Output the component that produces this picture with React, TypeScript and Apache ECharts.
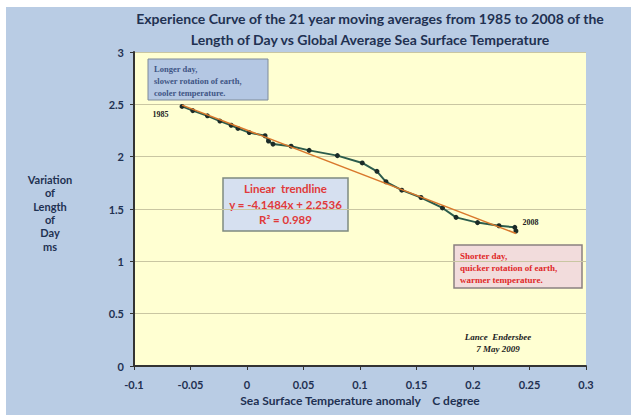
import React, { useEffect, useRef } from "react";
import * as echarts from "echarts";

const sstAnomaly: number[] = [
  -0.0575, -0.048, -0.035, -0.024, -0.014, -0.008, 0.002, 0.016, 0.019, 0.023,
  0.039, 0.055, 0.08, 0.102, 0.115, 0.123, 0.137, 0.154, 0.173, 0.185, 0.204,
  0.223, 0.237, 0.238,
];
const lodMs: number[] = [
  2.48, 2.44, 2.39, 2.34, 2.3, 2.27, 2.23, 2.2, 2.15, 2.12, 2.1, 2.06, 2.01,
  1.94, 1.86, 1.76, 1.68, 1.61, 1.51, 1.42, 1.37, 1.34, 1.325, 1.29,
];
const firstYear = "1985";
const lastYear = "2008";
const trendSlope = -4.1484;
const trendIntercept = 2.2536;
const rSquared = "0.989";

const titleLines = [
  "Experience Curve of the 21 year moving averages from 1985 to 2008 of the",
  "Length of Day vs Global Average Sea Surface Temperature",
];
const yAxisTitle = ["Variation", "of", "Length", "of", "Day", "ms"];
const xAxisTitle = "Sea Surface Temperature anomaly    C degree";

const NAVY = "#1f3152";
const SANS = "Lato, 'Open Sans', sans-serif";
const SERIF = "'Liberation Serif', 'DejaVu Serif', serif";

export default function App() {
  const ref = useRef<HTMLDivElement>(null);
  useEffect(() => {
    if (!ref.current) return;
    const chart = echarts.init(ref.current, null, { renderer: "svg" });
    const pts = sstAnomaly.map((x, i) => {
      const item: any = { value: [x, lodMs[i]] };
      if (i === 0) {
        item.label = {
          show: true,
          formatter: firstYear,
          position: "left",
          offset: [-6, 8],
        };
      } else if (i === sstAnomaly.length - 1) {
        item.label = {
          show: true,
          formatter: lastYear,
          position: "right",
          offset: [-1, -8],
        };
      }
      return item;
    });
    const xMin = Math.min(...sstAnomaly);
    const xMax = Math.max(...sstAnomaly);
    const trend = [
      [xMin, trendSlope * xMin + trendIntercept],
      [xMax, trendSlope * xMax + trendIntercept],
    ];

    chart.setOption({
      animation: false,
      backgroundColor: "transparent",
      title: {
        text: titleLines.join("\n"),
        left: 370,
        textAlign: "center",
        top: 8,
        padding: 0,
        textStyle: {
          fontFamily: SANS,
          fontWeight: "bold",
          fontSize: 14,
          color: NAVY,
          lineHeight: 21,
        },
      },
      grid: {
        left: 134,
        right: 45,
        top: 52,
        bottom: 49,
        show: true,
        backgroundColor: "#ffffd2",
        borderWidth: 0,
      },
      xAxis: {
        type: "value",
        min: -0.1,
        max: 0.3,
        interval: 0.05,
        name: xAxisTitle,
        nameLocation: "middle",
        nameGap: 28,
        nameTextStyle: {
          fontFamily: SANS,
          fontWeight: "bold",
          fontSize: 12,
          color: NAVY,
        },
        axisLine: { show: true, onZero: false, lineStyle: { color: "#333", width: 2 } },
        axisTick: { show: true, length: 4, lineStyle: { color: "#333" } },
        splitLine: { show: false },
        axisLabel: {
          fontFamily: SANS,
          fontWeight: "bold",
          fontSize: 11,
          color: NAVY,
          margin: 13,
          formatter: (v: number) => String(Math.round(v * 100) / 100),
        },
      },
      yAxis: {
        type: "value",
        min: 0,
        max: 3,
        interval: 0.5,
        axisLine: { show: true, onZero: false, lineStyle: { color: "#333", width: 2 } },
        axisTick: { show: true, length: 4, lineStyle: { color: "#333" } },
        splitLine: { show: true, lineStyle: { color: "#c9c6a2", width: 1 } },
        axisLabel: {
          fontFamily: SANS,
          fontWeight: "bold",
          fontSize: 11,
          color: NAVY,
          margin: 10,
        },
      },
      series: [
        {
          type: "line",
          data: pts,
          symbol: "circle",
          symbolSize: 5,
          itemStyle: { color: "#1b2b28" },
          lineStyle: { color: "#2c5c4c", width: 2 },
          label: {
            fontFamily: SERIF,
            fontWeight: "bold",
            fontSize: 8,
            color: "#222",
          },
          z: 2,
        },
        {
          type: "line",
          data: trend,
          symbol: "none",
          lineStyle: { color: "#d9782c", width: 1.5 },
          z: 3,
        },
      ],
      graphic: [
        {
          type: "text",
          x: 50,
          y: 173,
          style: {
            text: yAxisTitle.join("\n"),
            align: "center",
            fontFamily: SANS,
            fontWeight: "bold",
            fontSize: 11,
            lineHeight: 13.3,
            fill: NAVY,
          },
        },
        {
          type: "group",
          x: 148,
          y: 59,
          children: [
            {
              type: "rect",
              shape: { x: 0, y: 0, width: 120, height: 41 },
              style: { fill: "#b4c7e3", stroke: "#7f8a99", lineWidth: 1 },
            },
            {
              type: "text",
              x: 6,
              y: 4,
              style: {
                text: "Longer day,\nslower rotation of earth,\ncooler temperature.",
                fontFamily: SERIF,
                fontWeight: "bold",
                fontSize: 8.5,
                lineHeight: 12,
                fill: "#3f5585",
              },
            },
          ],
        },
        {
          type: "group",
          x: 223,
          y: 178,
          children: [
            {
              type: "rect",
              shape: { x: 0, y: 0, width: 125, height: 53 },
              style: { fill: "#d6e0f0", stroke: "#7f8a80", lineWidth: 1.5 },
            },
            {
              type: "text",
              x: 62.5,
              y: 3,
              style: {
                text: "Linear  trendline\ny = " +
                  trendSlope +
                  "x + " +
                  trendIntercept +
                  "\nR² = " +
                  rSquared,
                align: "center",
                fontFamily: SANS,
                fontWeight: "bold",
                fontSize: 11.5,
                lineHeight: 15.5,
                fill: "#e03a3a",
              },
            },
          ],
        },
        {
          type: "group",
          x: 454,
          y: 245,
          children: [
            {
              type: "rect",
              shape: { x: 0, y: 0, width: 128, height: 43 },
              style: { fill: "#f2dcdc", stroke: "#8a8080", lineWidth: 1.5 },
            },
            {
              type: "text",
              x: 6,
              y: 5,
              style: {
                text: "Shorter day,\nquicker rotation of earth,\nwarmer temperature.",
                fontFamily: SERIF,
                fontWeight: "bold",
                fontSize: 9,
                lineHeight: 12,
                fill: "#e02828",
              },
            },
          ],
        },
        {
          type: "text",
          x: 498,
          y: 331,
          style: {
            text: "Lance  Endersbee\n7 May 2009",
            align: "center",
            fontFamily: SERIF,
            fontWeight: "bold",
            fontStyle: "italic",
            fontSize: 9,
            lineHeight: 12,
            fill: "#222",
          },
        },
      ],
    });
    return () => chart.dispose();
  }, []);

  return (
    <div
      style={{
        position: "fixed",
        left: 0,
        top: 0,
        width: 631,
        height: 415,
        background: "#ffffff",
      }}
    >
      <div
        style={{
          position: "absolute",
          left: 6,
          top: 7,
          right: 0,
          bottom: 0,
          background: "#b9cce4",
        }}
      />
      <div
        ref={ref}
        style={{ position: "absolute", left: 0, top: 0, width: 631, height: 415 }}
      />
    </div>
  );
}
